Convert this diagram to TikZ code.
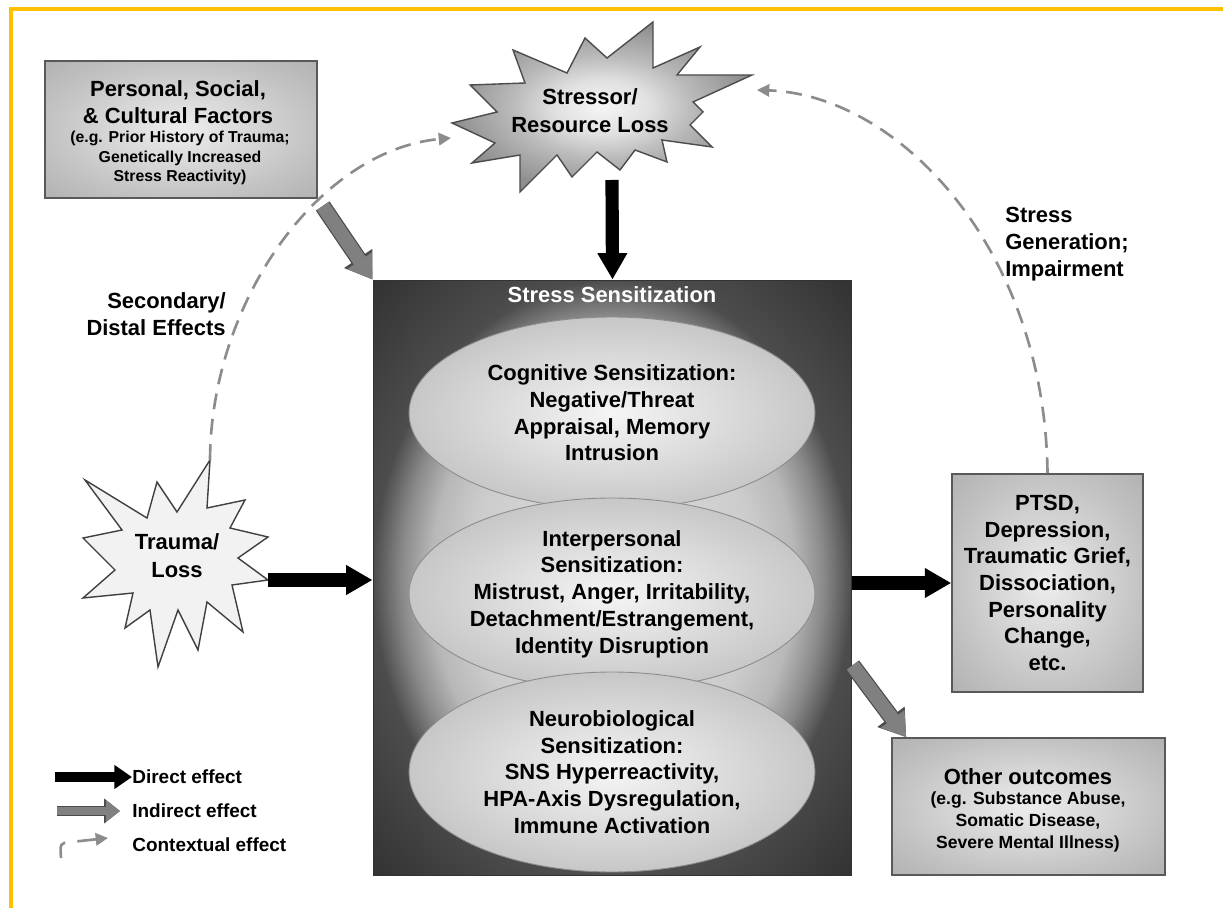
\documentclass[tikz,border=0pt]{standalone}
\usepackage{fontspec}
\setmainfont{Liberation Sans}
\usetikzlibrary{shapes.geometric,arrows.meta}

\definecolor{frameyellow}{HTML}{FFC000}
\pgfdeclareradialshading{sensshade}{\pgfpoint{0bp}{0bp}}{color(0bp)=(black!12); color(15bp)=(black!20); color(19bp)=(black!28); color(22bp)=(black!46); color(24bp)=(black!62); color(25bp)=(black!70); color(35bp)=(black!80); color(50bp)=(black!82)}
\pgfdeclareradialshading{ovalshade}{\pgfpoint{0bp}{0bp}}{color(0bp)=(black!4); color(25bp)=(black!22); color(50bp)=(black!26)}
\pgfdeclareradialshading{boxshade}{\pgfpoint{0bp}{0bp}}{color(0bp)=(black!7); color(25bp)=(black!24); color(35bp)=(black!30); color(50bp)=(black!32)}
\pgfdeclareradialshading{burstshade}{\pgfpoint{0bp}{0bp}}{color(0bp)=(black!4); color(8bp)=(black!12); color(15bp)=(black!27); color(25bp)=(black!44); color(50bp)=(black!52)}

\begin{document}
\begin{tikzpicture}[x=0.02cm, y=-0.02cm,
    txt/.style={font=\bfseries\fontsize{12.5}{15.2}\selectfont, align=center, inner sep=0pt},
    bursttxt/.style={txt, font=\bfseries\fontsize{12.5}{16}\selectfont},
    note/.style={font=\bfseries\fontsize{9}{11}\selectfont, align=center, inner sep=0pt},
    greybox/.style={draw=black!65, line width=0.9pt, shading=boxshade},
    oval/.style={ellipse, draw=black!45, line width=0.5pt, shading=ovalshade, inner sep=0pt, minimum width=8.12cm},
    direct/.style={line width=7.5pt, -{Triangle[length=15pt, width=16pt]}},
    indirect/.style={line width=8pt, draw=black!50, -{Triangle[length=13pt, width=16pt]},
        preaction={draw=black!70, line width=9.4pt, -{Triangle[length=14.5pt, width=18.4pt]}}},
    smallindirect/.style={line width=5pt, draw=black!50, -{Triangle[length=8pt, width=12pt]},
        preaction={draw=black!70, line width=6pt, -{Triangle[length=9pt, width=13.6pt]}}},
    context/.style={draw=black!45, line width=1.5pt, dash pattern=on 9pt off 5.5pt, -{Triangle[length=7pt, width=7pt]}},
    legend/.style={font=\bfseries\fontsize{10.8}{13}\selectfont, inner sep=0pt, anchor=west}]

    \useasboundingbox (0,0) rectangle (1223,908);
    \draw[frameyellow, line width=2pt] (11,908) -- (11,9) -- (1223,9);

    % stress sensitization block
    \node (sens) at (612.5,578) [draw=black!80, line width=0.6pt, shading=sensshade, minimum width=9.58cm, minimum height=11.92cm] {};
    \node (senstitle) at (612,295) [txt, text=white] {Stress Sensitization};
    \node (cog) at (612,413) [oval, txt, minimum height=3.84cm] {Cognitive Sensitization:\\Negative/Threat\\Appraisal, Memory\\Intrusion};
    \node (inter) at (612,594) [oval, txt, minimum height=3.84cm] {Interpersonal\\Sensitization:\\Mistrust, Anger, Irritability,\\Detachment/Estrangement,\\Identity Disruption};
    \node (neuro) at (612,772) [oval, txt, minimum height=4cm] {Neurobiological\\Sensitization:\\SNS Hyperreactivity,\\HPA-Axis Dysregulation,\\Immune Activation};

    % factors
    \node (personal) at (181,129.5) [greybox, minimum width=5.44cm, minimum height=2.74cm] {};
    \node (perstitle) at (178,102) [txt] {Personal, Social,\\\& Cultural Factors};
    \node (persnote) at (180,158) [note] {(e.g. Prior History of Trauma;\\Genetically Increased\\Stress Reactivity)};

    % stressor
    \draw[draw=black!70, line width=0.8pt, shading=burstshade] (653,22) -- (653,68) -- (700,47) -- (677,75) -- (752,75) -- (693,102) -- (703,112) -- (690,125) -- (712,147) -- (662,140) -- (667,162) -- (635,150) -- (620,170) -- (597,152) -- (572,177) -- (557,155) -- (520,192) -- (520,155) -- (472,163) -- (495,143) -- (452,123) -- (497,112) -- (470,85) -- (525,83) -- (513,50) -- (567,73) -- (585,38) -- (607,58) -- cycle;
    \node (stressor) at (590,111) [bursttxt] {Stressor/\\Resource Loss};

    % trauma
    \draw[draw=black!75, line width=0.8pt, fill=black!5] (210,460) -- (207,508) -- (245,500) -- (230,528) -- (268,537) -- (238,558) -- (268,580) -- (232,585) -- (243,632) -- (207,602) -- (198,650) -- (178,610) -- (158,667) -- (150,610) -- (125,628) -- (133,593) -- (83,598) -- (115,570) -- (83,538) -- (122,530) -- (85,480) -- (147,518) -- (157,482) -- (177,512) -- cycle;
    \node (trauma) at (177,556) [bursttxt] {Trauma/\\Loss};

    \coordinate (stip) at (612,180);
    \coordinate (ttip) at (268,580);
    \coordinate (tpeak) at (210,460);
    \coordinate (sleft) at (451,138);
    \coordinate (sright) at (757,90);

    % outcomes
    \node (ptsd) at (1047.5,583) [greybox, txt, minimum width=3.82cm, minimum height=4.36cm] {PTSD,\\Depression,\\Traumatic Grief,\\Dissociation,\\Personality\\Change,\\etc.};
    \node (other) at (1028.5,806.5) [greybox, minimum width=5.46cm, minimum height=2.74cm] {};
    \node (othertitle) at (1028,777) [txt] {Other outcomes};
    \node (othernote) at (1028,822) [note, font=\bfseries\fontsize{10}{12.3}\selectfont] {(e.g. Substance Abuse,\\Somatic Disease,\\Severe Mental Illness)};

    \node (secondary) at (226,314) [txt, anchor=east, align=right] {Secondary/\\Distal Effects};
    \node (stressgen) at (1005,244) [txt, anchor=west, align=left] {Stress\\Generation;\\Impairment};

    \draw[direct] (stip) -- (sens.north);
    \draw[direct] (ttip) -- (ttip -| sens.west);
    \draw[direct] (ptsd.west -| sens.east) -- (ptsd.west);
    \draw[indirect, shorten <=5pt] (personal.south east) -- (sens.north west);
    \draw[indirect] (sens.-20) -- ([xshift=0.3cm]other.north west);
    \draw[context] (tpeak) .. controls (211,300) and (320,150) .. (sleft);
    \draw[context] (ptsd.north) .. controls (1045,250) and (900,95) .. (sright);

    % legend
    \coordinate (dstart) at (55,777);
    \node (dlab) at (132,777) [legend] {Direct effect};
    \draw[direct, line width=6pt, -{Triangle[length=10pt, width=13pt]}] (dstart) -- (dlab.west);
    \coordinate (istart) at (57,811);
    \coordinate (iend) at (120,811);
    \node (ilab) at (132,811) [legend] {Indirect effect};
    \draw[smallindirect] (istart) -- (iend);
    \coordinate (cstart) at (61,858);
    \coordinate (cend) at (108,838);
    \node (clab) at (132,845) [legend] {Contextual effect};
    \draw[context, dash pattern=on 10pt off 7pt on 30pt off 5pt] (cstart) .. controls (60,843) .. (71,842) -- (cend);
\end{tikzpicture}
\end{document}
